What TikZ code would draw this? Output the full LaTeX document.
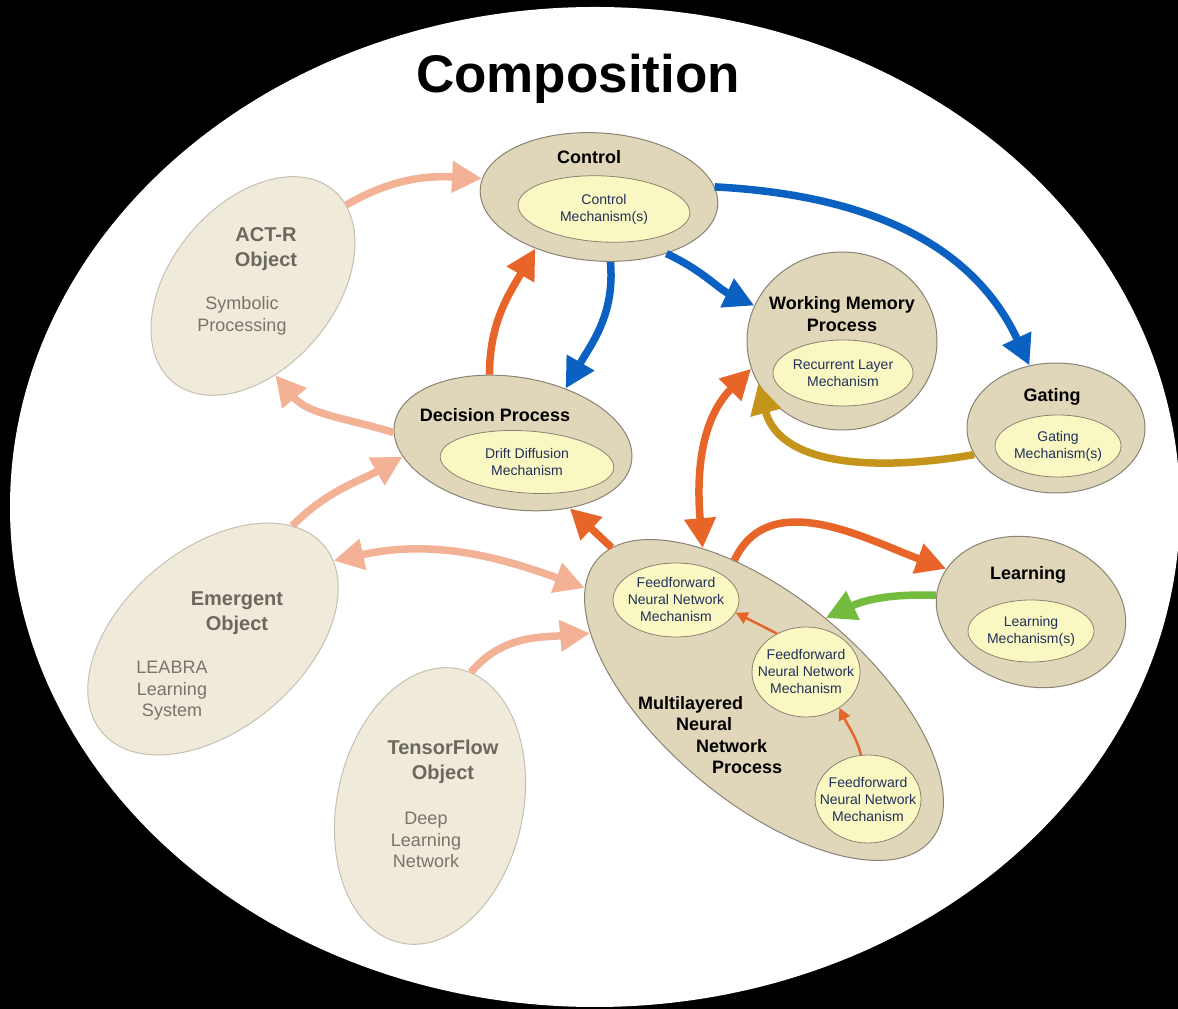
\documentclass[tikz,border=0pt]{standalone}
\usepackage{fontspec}
\setmainfont{Liberation Sans}
\usepackage{tikz}
\usetikzlibrary{arrows.meta,shapes}
\definecolor{tanfill}{HTML}{E0D6B9}
\definecolor{tanline}{HTML}{8A8373}
\definecolor{mechfill}{HTML}{F9F8C2}
\definecolor{navyc}{HTML}{22305A}
\definecolor{objfill}{HTML}{EFEADA}
\definecolor{objline}{HTML}{C6C0B2}
\definecolor{objboldc}{HTML}{6C6860}
\definecolor{objtextc}{HTML}{78746C}
\definecolor{peachc}{HTML}{F3B196}
\definecolor{orangec}{HTML}{E8652A}
\definecolor{bluec}{HTML}{0A61C1}
\definecolor{goldc}{HTML}{C4951A}
\definecolor{greenc}{HTML}{73BC3D}
\tikzstyle{process}=[ellipse, draw=tanline, fill=tanfill
,line width=1pt
,inner sep=0pt
]
\tikzstyle{mechanism}=[ellipse, draw=tanline, fill=mechfill, line width=0.8pt, inner sep=0pt]
\tikzstyle{object}=[ellipse, draw=objline, fill=objfill, line width=1pt, inner sep=0pt]
\tikzstyle{heading}=[font=\bfseries\fontsize{18}{22}\selectfont, align=center, inner sep=0pt]
\tikzstyle{mechlabel}=[text=navyc, font=\fontsize{14}{17}\selectfont, align=center, inner sep=0pt]
\tikzstyle{objhead}=[text=objboldc, font=\bfseries\fontsize{20}{25}\selectfont, align=center, inner sep=0pt]
\tikzstyle{objlabel}=[text=objtextc, font=\fontsize{18}{21.5}\selectfont, align=center, inner sep=0pt]
\tikzstyle{flow} = [line width=7.5pt, ->, >={Triangle[length=30pt,width=30pt]}]
\tikzstyle{thinflow} = [line width=2.5pt, ->, >={Triangle[length=12pt,width=12pt]}, color=orangec]

\begin{document}
\begin{tikzpicture}[x=1pt,y=1pt]
    % Black page with the composition ellipse
    \fill[black] (0,0) rectangle (1178,1009);
    \useasboundingbox (0,0) rectangle (1178,1009);
    \fill[white] (595,502) ellipse [x radius=585, y radius=500];
    \node[heading, font=\bfseries\fontsize{53}{60}\selectfont] (comp) at (578,930) {Composition};

    % Outside objects
    \foreach \pos/\w/\h/\rot/\name in {{(253,723)/250pt/164pt/50/actr}, {(213,370)/290pt/180pt/40/emer}, {(430,203)/280pt/186pt/78/tf}}
        \node[object, minimum width=\w, minimum height=\h, rotate=\rot] (\name) at \pos {};
    \node[objhead] (actr-t) at (266,760) {ACT-R\\Object};
    \node[objlabel] (actr-s) at (242,693) {Symbolic\\Processing};
    \node[objhead] (emer-t) at (237,396) {Emergent\\Object};
    \node[objlabel] (emer-s) at (172,318) {LEABRA\\Learning\\System};
    \node[objhead] (tf-t) at (443,247) {TensorFlow\\Object};
    \node[objlabel] (tf-s) at (426,169) {Deep\\Learning\\Network};

    % Then the processes
    \foreach \pos/\w/\h/\rot/\name in {{(599,812)/238pt/128pt/-4/ctrl}, {(842,668)/190pt/178pt/0/wm}, {(1056,581)/178pt/130pt/0/gate}, {(513,566)/240pt/132pt/-9/dec}, {(1031,397)/192pt/148pt/-15/learn}, {(764,309)/436pt/204pt/-40/mlp}}
        \node[process, minimum width=\w, minimum height=\h, rotate=\rot] (\name) at \pos {};
    \node[heading] (ctrl-t) at (589,852) {Control};
    \node[heading] (wm-t) at (842,695) {Working Memory\\Process};
    \node[heading] (gate-t) at (1052,612) {Gating};
    \node[heading] (dec-t) at (495,594) {Decision Process};
    \node[heading] (learn-t) at (1028,434) {Learning};
    \node[heading, anchor=west, align=left, font=\bfseries\fontsize{18}{21.5}\selectfont] (mlp-t) at (638,274) {Multilayered\\\hspace*{38pt}Neural\\\hspace*{58pt}Network\\\hspace*{74pt}Process};

    % Mechanisms inside the processes
    \foreach \pos/\w/\h/\rot/\name/\txt in {{(604,800)/172pt/66pt/-3/ctrl-m/{Control\\Mechanism(s)}},
                                           {(843,636)/140pt/66pt/0/wm-m/{Recurrent Layer\\Mechanism}},
                                           {(1058,563)/126pt/62pt/0/gate-m/{Gating\\Mechanism(s)}},
                                           {(527,547)/174pt/62pt/-4/dec-m/{Drift Diffusion\\Mechanism}},
                                           {(1031,378)/126pt/62pt/0/learn-m/{Learning\\Mechanism(s)}},
                                           {(676,409)/126pt/74pt/0/ff1/{Feedforward\\Neural Network\\Mechanism}},
                                           {(806,337)/108pt/90pt/0/ff2/{Feedforward\\Neural Network\\Mechanism}},
                                           {(868,210)/106pt/88pt/0/ff3/{Feedforward\\Neural Network\\Mechanism}}}
    {
        \node[mechanism, minimum width=\w, minimum height=\h, rotate=\rot] (\name) at \pos {};
        \node[mechlabel] (\name-t) at (\name) {\txt};
    }

    % Links to the outside objects
    \draw[flow, color=peachc] (actr.-9) to[out=30,in=177] (ctrl.175);
    \draw[flow, color=peachc] (dec.184) to[out=163,in=-50] (actr.-126);
    \draw[flow, color=peachc] (emer.15) to[out=45,in=210] (dec.196);
    \draw[flow, color=peachc, <->] (emer.-7) to[out=12,in=160] (mlp.188);
    \draw[flow, color=peachc] (tf.-5) to[out=50,in=185] (mlp.199);

    % Links between the processes
    \draw[flow, color=orangec] (dec.118) to[out=90,in=240] (ctrl.223);
    \draw[flow, color=bluec] (ctrl.-76) to[out=-85,in=60] (dec.55);
    \draw[flow, color=bluec] (ctrl.-36) to[out=-25,in=155] (wm.158);
    \draw[flow, color=bluec] (ctrl.9) to[out=-3,in=115] (gate.113);
    \draw[flow, color=goldc] (gate.198) to[out=190,in=-75] (wm.207);
    \draw[flow, color=orangec, <->] (mlp.152) to[out=95,in=225] (wm.197);
    \draw[flow, color=orangec] (mlp.175) -- (dec.-40);
    \draw[flow, color=orangec] (mlp.142) to[out=65,in=160] (learn.168);
    \draw[flow, color=greenc] (learn.185) to[out=178,in=25] (mlp.93);

    % Inside the network
    \draw[thinflow] (ff3.99) to[out=105,in=-65] (ff2.-47);
    \draw[thinflow] (ff2.127) -- (ff1.-12);
\end{tikzpicture}
\end{document}
